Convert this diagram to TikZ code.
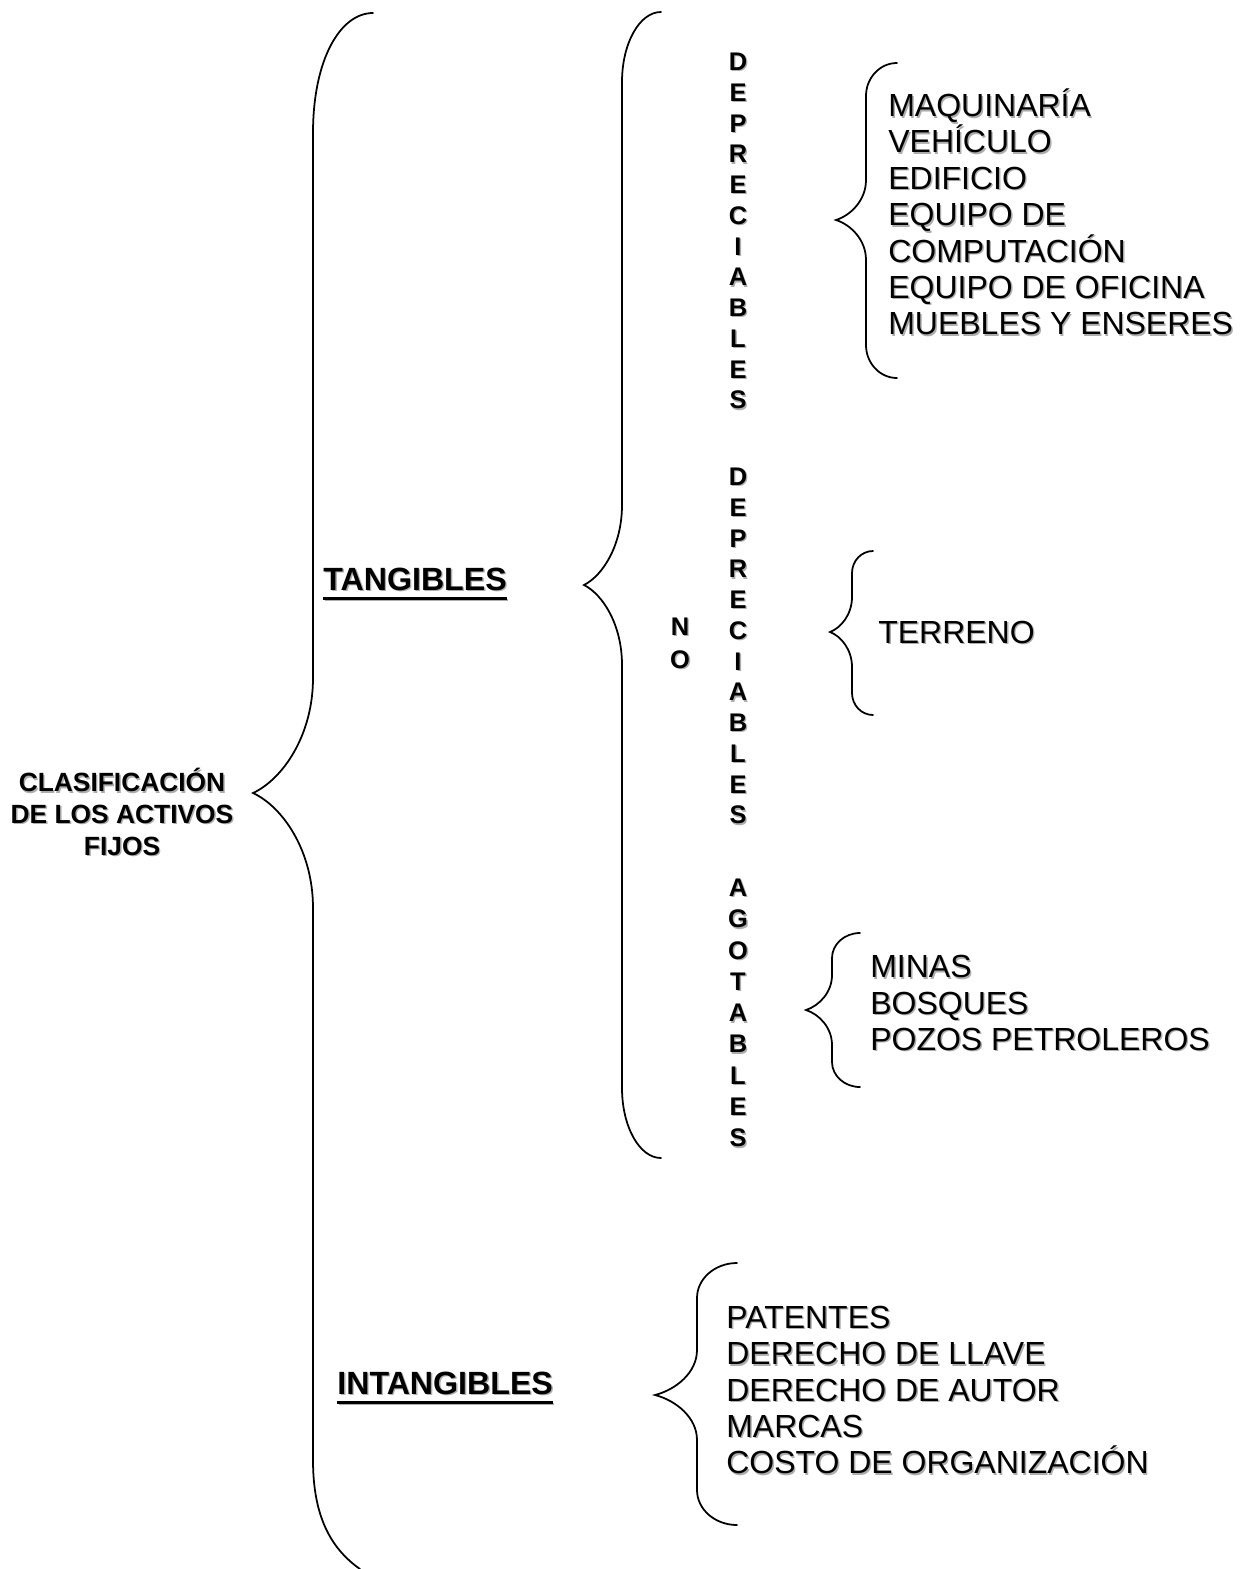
\documentclass[tikz,border=0pt]{standalone}
\usepackage{fontspec}
\setmainfont{Liberation Sans}
\usepackage{tikz}

\tikzset{
    bracestyle/.style={line width=1pt, line cap=round},
    itemlist/.style={anchor=west, align=left, inner sep=0pt, font=\fontsize{18.2}{20.7}\selectfont},
    headlabel/.style={anchor=base west, inner sep=0pt, font=\bfseries\fontsize{18.3}{21}\selectfont},
    titlelabel/.style={align=center, inner sep=0pt, font=\bfseries\fontsize{15}{18}\selectfont},
    vertword/.style={align=center, inner sep=0pt, font=\bfseries\fontsize{14.5}{17.5}\selectfont},
}

% thick underline
\newcommand\fatul[1]{\vtop{\hbox{#1}\kern4pt\hrule height1.4pt}}

% text with a grey shadow: options, name, position, text
\newcommand\shadowed[4]{%
    \node[#1, text=black!32, xshift=0.8pt, yshift=-0.8pt] at (#3) {#4};
    \node[#1] (#2) at (#3) {#4};}

% curly brace: x line, x tip, x ends, y top, y tip, y bottom, end radius, tip radius
\newcommand\curlybrace[8]{%
    \draw[bracestyle] (#3,#4) .. controls ({#1+0.448*(#3-#1)},#4) and (#1,{#4+0.448*#7}) .. (#1,{#4+#7})
        -- (#1,{#5-#8}) .. controls (#1,{#5-0.5*#8}) and ({#2+0.5*(#1-#2)},{#5-0.12*#8}) .. (#2,#5)
        .. controls ({#2+0.5*(#1-#2)},{#5+0.12*#8}) and (#1,{#5+0.5*#8}) .. (#1,{#5+#8})
        -- (#1,{#6-#7}) .. controls (#1,{#6-0.448*#7}) and ({#1+0.448*(#3-#1)},#6) .. (#3,#6);}

\begin{document}
\begin{tikzpicture}[x=0.02cm, y=-0.02cm]
    \useasboundingbox (0,0) rectangle (1243,1569);

    % Main title
    \shadowed{titlelabel}{activos}{122,812}{CLASIFICACIÓN\\DE LOS ACTIVOS\\FIJOS}

    % Big brace
    \draw[bracestyle] (373,13) .. controls (340,13) and (313,60) .. (313,133) -- (313,678)
        .. controls (313,735) and (283,779) .. (253,793)
        .. controls (283,807) and (313,851) .. (313,908) -- (313,1460)
        .. controls (313,1515) and (330,1548) .. (360,1569);

    % Headings
    \shadowed{headlabel}{tang}{323,590}{\fatul{TANGIBLES}}
    \shadowed{headlabel}{intang}{337,1394}{\fatul{INTANGIBLES}}

    % Tangibles
    \curlybrace{622}{584}{661}{12}{585}{1158}{70}{80}
    \shadowed{vertword}{deprec}{738,231}{D\\E\\P\\R\\E\\C\\I\\A\\B\\L\\E\\S}
    \shadowed{vertword, font=\bfseries\fontsize{14.5}{18.8}\selectfont}{neg}{680,643}{N\\O}
    \shadowed{vertword}{nodeprec}{738,646}{D\\E\\P\\R\\E\\C\\I\\A\\B\\L\\E\\S}
    \shadowed{vertword, font=\bfseries\fontsize{14.5}{17.8}\selectfont}{agot}{738,1013}{A\\G\\O\\T\\A\\B\\L\\E\\S}

    % Depreciables
    \curlybrace{866}{836}{897}{63}{220}{378}{33}{40}
    \shadowed{itemlist}{bienes}{888,212}{MAQUINARÍA\\VEHÍCULO\\EDIFICIO\\EQUIPO DE\\COMPUTACIÓN\\EQUIPO DE OFICINA\\MUEBLES Y ENSERES}

    % No depreciables
    \curlybrace{852}{830}{873}{551}{632}{715}{22}{35}
    \shadowed{itemlist}{terreno}{878,632}{TERRENO}

    % Agotables
    \curlybrace{832}{806}{860}{933}{1010}{1087}{25}{35}
    \shadowed{itemlist}{recursos}{870,1003}{MINAS\\BOSQUES\\POZOS PETROLEROS}

    % Intangibles
    \curlybrace{697}{655}{737}{1263}{1395}{1525}{35}{45}
    \shadowed{itemlist}{derechos}{726,1390}{PATENTES\\DERECHO DE LLAVE\\DERECHO DE AUTOR\\MARCAS\\COSTO DE ORGANIZACIÓN}
\end{tikzpicture}
\end{document}
